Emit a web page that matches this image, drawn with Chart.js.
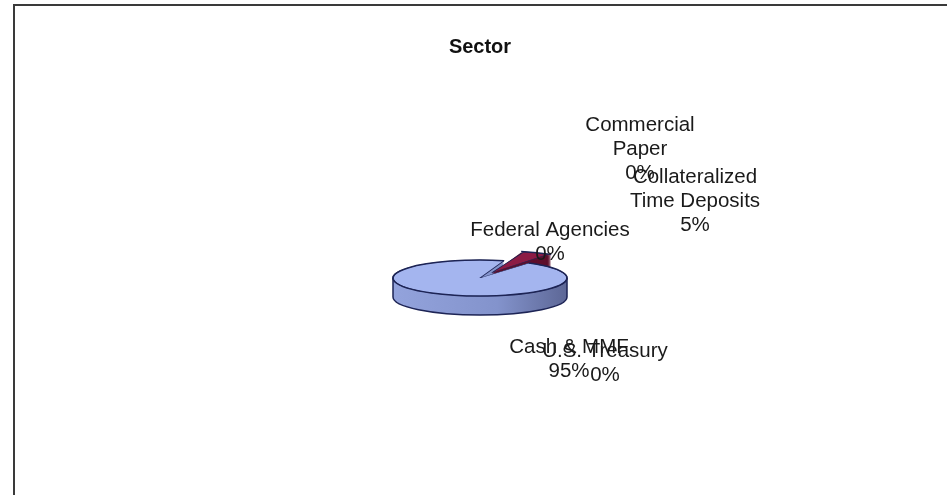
<!DOCTYPE html>
<html>
<head>
<meta charset="utf-8">
<script src="https://cdn.jsdelivr.net/npm/chart.js@4/dist/chart.umd.min.js"></script>
<style>
  html, body { margin: 0; padding: 0; background: #fff; overflow: hidden; }
  #frame {
    position: absolute; left: 13px; top: 4px; width: 940px; height: 500px;
    border-top: 2px solid #3a3a3a; border-left: 2px solid #3a3a3a;
  }
  #sectorChart { position: absolute; left: 0; top: 0; }
</style>
</head>
<body>
<div id="frame"></div>
<canvas id="sectorChart" width="947" height="499"></canvas>
<script>
// セクター別構成比
const sectors = ["Cash & MMF", "U.S. Treasury", "Federal Agencies", "Commercial Paper", "Collateralized Time Deposits"];
const sectorLabels = [
    ["Cash & MMF", "95%"],
    ["U.S. Treasury", "0%"],
    ["Federal Agencies", "0%"],
    ["Commercial", "Paper", "0%"],
    ["Collateralized", "Time Deposits", "5%"]
];
const percents = [95, 0, 0, 0, 5];

// 見た目の設定
const topColors = ["#a4b5ef", "#c9c9ff", "#ffffcc", "#ccffff", "#8c1c45"];
const sideColors = ["#8696d0", "#a0a0d8", "#d0d0a0", "#a0d0d0", "#5e0f2c"];
const explode = [0, 0, 0, 0, 112];
const labelOffsets = [[89, 69], [125, 73], [70, -48], [160, -153], [215, -101]];
const lineGap = 24;
const squash = 0.207;   // 楕円の縦横比
const depth = 19;       // 側面の厚み
const edgeColor = "#1d2455";

// 切り出し分を含めた扇形の中心と半径(ArcElement.draw と同じ計算)
function arcGeom(arc) {
    const o = (arc.options.offset || 0) / 4;
    const half = (arc.startAngle + arc.endAngle) / 2;
    const fix = 1 - Math.sin(Math.min(Math.PI, arc.circumference || 0));
    return {
        x: arc.x + Math.cos(half) * o,
        y: arc.y + Math.sin(half) * o,
        r: arc.outerRadius + o * fix
    };
}

const pie3d = {
    id: "pie3d",
    beforeDatasetsDraw(chart) {
        const ctx = chart.ctx;
        const arcs = chart.getDatasetMeta(0).data;
        const cx = arcs[0].x, cy = arcs[0].y;
        const r = arcs[0].outerRadius;

        // 側面(厚み)を下から積み重ねる
        for (let d = depth; d >= 1; d--) {
            ctx.save();
            ctx.translate(cx, cy + d);
            ctx.scale(1, squash);
            ctx.translate(-cx, -cy);
            arcs.forEach((arc, i) => {
                if (arc.circumference <= 0) return;
                const g = arcGeom(arc);
                let color = sideColors[i];
                if (i === 0) {
                    color = ctx.createLinearGradient(cx - r, 0, cx + r, 0);
                    color.addColorStop(0, "#93a3dc");
                    color.addColorStop(0.6, "#8393cc");
                    color.addColorStop(1, "#5d6796");
                }
                ctx.beginPath();
                ctx.moveTo(g.x, g.y);
                ctx.arc(g.x, g.y, g.r, arc.startAngle, arc.endAngle);
                ctx.closePath();
                ctx.fillStyle = color;
                ctx.fill();
            });
            ctx.restore();
        }

        // 側面の輪郭
        ctx.save();
        ctx.strokeStyle = edgeColor;
        ctx.lineWidth = 1.5;
        ctx.beginPath();
        ctx.ellipse(cx, cy + depth, r, r * squash, 0, 0, Math.PI);
        ctx.moveTo(cx - r, cy); ctx.lineTo(cx - r, cy + depth);
        ctx.moveTo(cx + r, cy); ctx.lineTo(cx + r, cy + depth);
        ctx.stroke();
        ctx.restore();

        // 上面を楕円に潰す
        ctx.save();
        ctx.translate(cx, cy);
        ctx.scale(1, squash);
        ctx.translate(-cx, -cy);
    },
    afterDatasetsDraw(chart) {
        const ctx = chart.ctx;
        ctx.restore();
        // 上面の輪郭
        const arcs = chart.getDatasetMeta(0).data;
        ctx.save();
        ctx.strokeStyle = edgeColor;
        ctx.lineWidth = 1.5;
        arcs.forEach(arc => {
            if (arc.circumference <= 0) return;
            const g = arcGeom(arc);
            const sy = arc.y + (g.y - arc.y) * squash;
            ctx.beginPath();
            ctx.ellipse(g.x, sy, g.r, g.r * squash, 0, arc.startAngle, arc.endAngle);
            ctx.stroke();
        });
        ctx.restore();
    },
    afterDraw(chart) {
        const ctx = chart.ctx;
        const arc = chart.getDatasetMeta(0).data[0];
        ctx.save();
        ctx.font = "20.5px 'Liberation Sans', Arial, sans-serif";
        ctx.fillStyle = "#1a1a1a";
        ctx.textAlign = "center";
        ctx.textBaseline = "middle";
        sectorLabels.forEach((lines, i) => {
            const x = arc.x + labelOffsets[i][0];
            const y = arc.y + labelOffsets[i][1];
            lines.forEach((t, j) => ctx.fillText(t, x, y + j * lineGap));
        });
        ctx.restore();
    }
};

new Chart(document.getElementById("sectorChart"), {
    type: "pie",
    data: {
        labels: sectors,
        datasets: [{
            data: percents,
            backgroundColor: topColors,
            borderColor: edgeColor,
            borderWidth: 1.5,
            offset: explode,
            clip: false
        }]
    },
    options: {
        responsive: false,
        animation: false,
        rotation: 34,
        radius: 87,
        layout: { padding: { left: 13, right: 0, top: 0, bottom: 0 } },
        plugins: {
            legend: { display: false },
            tooltip: { enabled: false },
            title: {
                display: true,
                text: "Sector",
                color: "#111",
                font: { family: "'Liberation Sans', Arial, sans-serif", size: 20, weight: "bold", lineHeight: 1 },
                padding: { top: 37, bottom: 0 }
            }
        }
    },
    plugins: [pie3d]
});
</script>
</body>
</html>
